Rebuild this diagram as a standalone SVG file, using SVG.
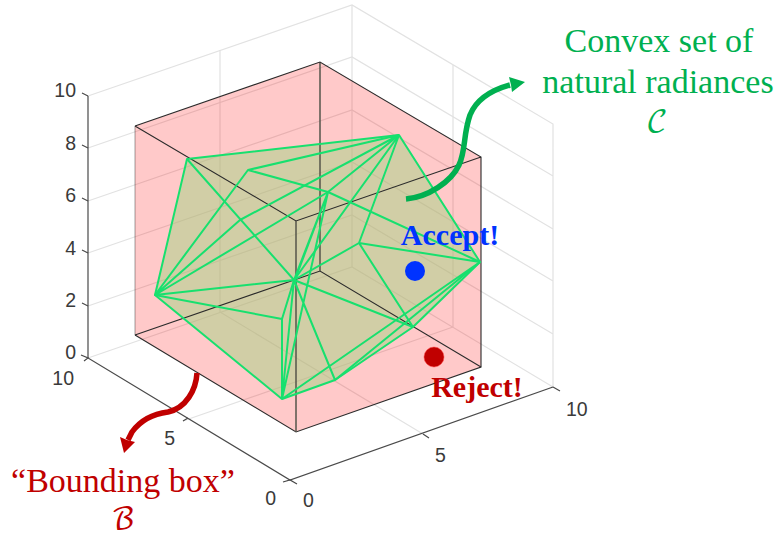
<svg xmlns="http://www.w3.org/2000/svg" width="776" height="537" viewBox="0 0 776 537">
<style>
.grid{stroke:#e2e2e2;stroke-width:1.2;fill:none}
.axis{stroke:#4a4a4a;stroke-width:1.2;fill:none}
.tick{font:19.5px "Liberation Sans",Arial,sans-serif;fill:#3a3a3a}
.box{stroke:#2b2b2b;stroke-width:1.1;fill:none}
.boxv{stroke:#55554a;stroke-width:1.5;fill:none}
.edge{stroke:#17e06e;stroke-width:2;fill:none;stroke-linejoin:round}
.lab{font-family:"Liberation Serif","Times New Roman",serif;font-size:34px;text-anchor:middle}
.big{font-family:"Liberation Serif","Times New Roman",serif;font-size:30px;font-weight:bold;text-anchor:middle}
.math{font-family:"DejaVu Math TeX Gyre","Noto Sans Math","DejaVu Serif",serif;font-size:30px;text-anchor:middle}
</style>
<g id="plot-grid">
<path class="grid" d="M88 96L352 5L553 124V387M88 148L352 57L553 176M88 201L352 110L553 229M88 253L352 162L553 281M88 306L352 215L553 334M88 358L352 267L553 387"/>
<path class="grid" d="M352 5V267M220 50V312M453 65V327M183 421L453 327M423 434L220 312"/>
</g>
<g id="axes">
<path class="axis" d="M88 96V358L290 480L553 387"/>
<path class="axis" d="M82 93L88 96M82 145L88 148M82 198L88 201M82 250L88 253M82 303L88 306M81 355L88 358L84 361M183 421L188 418M423 434L429 438M283 482L290 480L297 484M553 387L560 391"/>
<text class="tick" x="76" y="97" text-anchor="end">10</text>
<text class="tick" x="76" y="150" text-anchor="end">8</text>
<text class="tick" x="76" y="202" text-anchor="end">6</text>
<text class="tick" x="76" y="255" text-anchor="end">4</text>
<text class="tick" x="76" y="307" text-anchor="end">2</text>
<text class="tick" x="76" y="359" text-anchor="end">0</text>
<text class="tick" x="74" y="385" text-anchor="end">10</text>
<text class="tick" x="175" y="445" text-anchor="end">5</text>
<text class="tick" x="276" y="505" text-anchor="end">0</text>
<text class="tick" x="303" y="507">0</text>
<text class="tick" x="435" y="462">5</text>
<text class="tick" x="566" y="416">10</text>
</g>
<g id="bounding-box">
<path d="M135 126L320 62L481 157V367L296 432L135 335Z" fill="#ff0000" fill-opacity=".21"/>
</g>
<g id="convex-set">
<path d="M187 159L399 135L480 262L413 327L335 380L282 399L155 295Z" fill="#a3d383" fill-opacity=".5"/>
</g>
<g id="box-edges">
<path class="box" d="M135 335L320 271L481 367"/>
<path class="boxv" d="M320 62V271"/>
<path class="box" stroke-opacity=".4" d="M135 126V335"/>
<path class="box" d="M135 126L320 62L481 157V367L296 432L135 335M135 126L296 221L481 157"/>
<path class="boxv" d="M296 221V432"/>
</g>
<g id="connectors">
<path class="edge" d="M187 159L399 135L480 262L413 327L335 380L282 399L155 295Z"/>
<path class="edge" d="M155 295L248 170L399 135M155 295L240 220L399 135M155 295L328 192L399 135M155 295L294 280L282 319Z"/>
<path class="edge" d="M187 159L294 280M248 170L328 192L480 262M399 135L294 280M399 135L359 243L480 262M359 243L413 327M359 243L294 280"/>
<path class="edge" d="M294 280L413 327M294 280L335 380M282 399L480 262M335 380L480 262M282 399L282 319M282 399L294 280M282 399L328 192M328 192L294 280M328 192L296 277"/>
</g>
<g id="point-accept">
<circle cx="415" cy="271" r="10" fill="#0033ff"/>
<text class="big" x="450" y="245" fill="#0033ff">Accept!</text>
</g>
<g id="point-reject">
<circle cx="434" cy="357" r="10" fill="#c00000" stroke="#ff4040" stroke-opacity=".5"/>
<text class="big" x="477" y="397" fill="#c00000">Reject!</text>
</g>
<g id="callout-c">
<path d="M406 199C428 197 451 182 459 165C466 150 463 135 470 115C477 98 492 90 510 85" fill="none" stroke="#00b050" stroke-width="5.5"/>
<path d="M525 82L509 77L511 85L512 92Z" fill="#00b050"/>
<text class="lab" x="659" y="52" fill="#00b050">Convex set of</text>
<text class="lab" x="658" y="93" fill="#00b050">natural radiances</text>
<text class="math" x="657" y="131" fill="#00b050">𝒞</text>
</g>
<g id="callout-b">
<path d="M197 373C196 390 186 408 168 412C152 414 140 421 132 432L128 440" fill="none" stroke="#c00000" stroke-width="5.5"/>
<path d="M124 453L120 437L127 440L135 442Z" fill="#c00000"/>
<text class="lab" x="123" y="492" fill="#c00000">“Bounding box”</text>
<text class="math" x="123" y="529" fill="#c00000">ℬ</text>
</g>
</svg>
